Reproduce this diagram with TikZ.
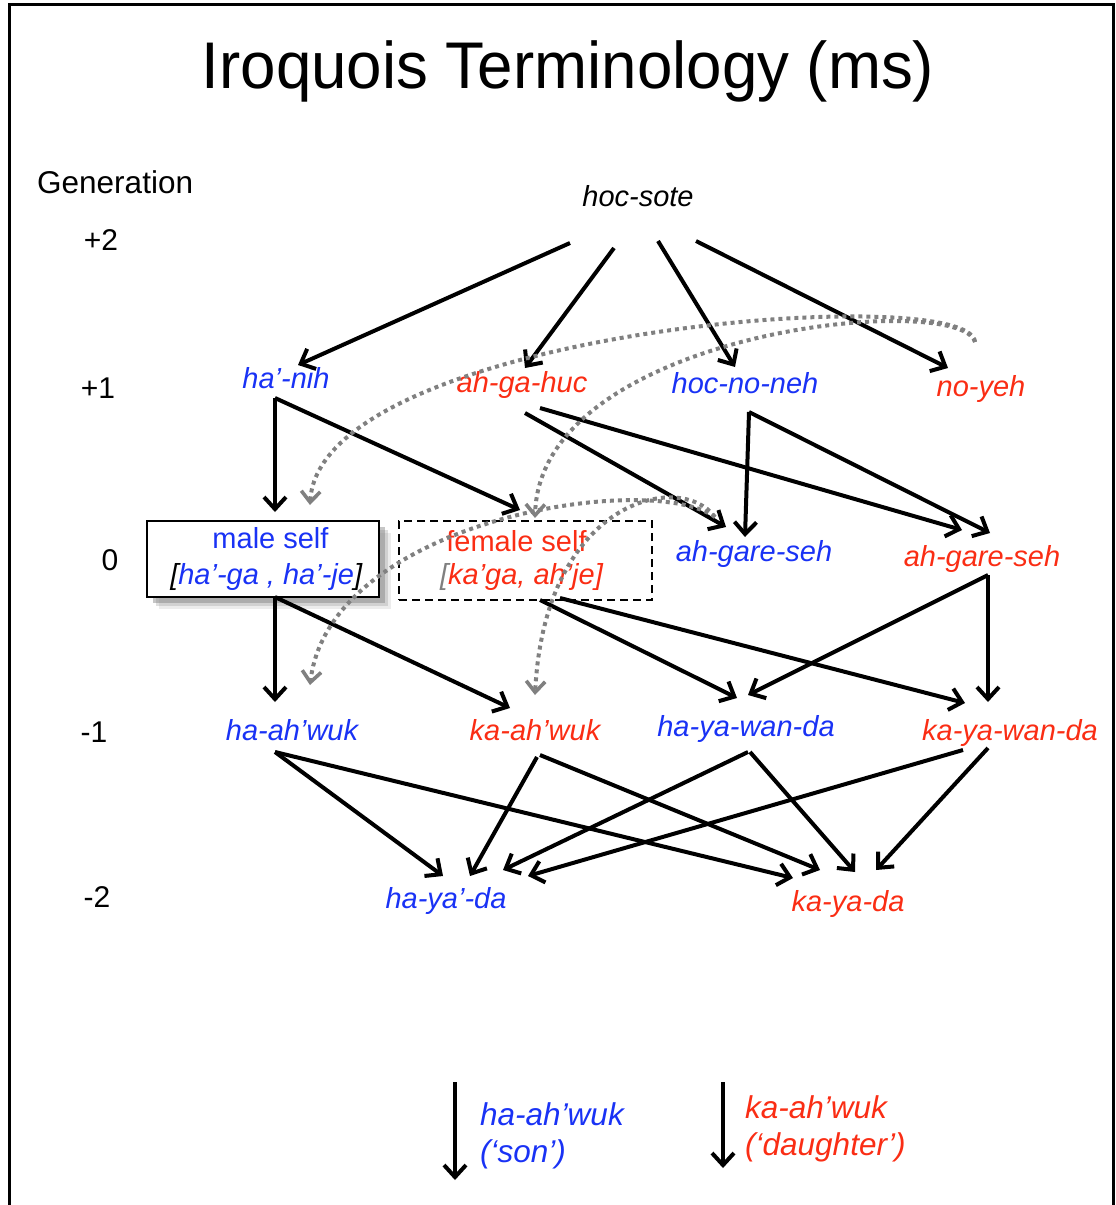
\documentclass[tikz,border=0pt]{standalone}
\usepackage{fontspec}
\setmainfont{Liberation Sans}
\newfontfamily\titlefont[FakeStretch=0.965]{Liberation Sans}
\usetikzlibrary{arrows.meta,calc,shadows}
\definecolor{kblue}{RGB}{25,50,245}
\definecolor{kred}{RGB}{250,45,20}
\definecolor{dgray}{RGB}{128,128,128}
\begin{document}
\begin{tikzpicture}[x=1pt,y=-1pt,
  lbl/.style={font=\fontsize{29}{34}\selectfont\itshape, anchor=base, inner sep=0pt},
  leg/.style={font=\fontsize{31.5}{34}\selectfont\itshape, anchor=base west, inner sep=0pt},
  gen/.style={font=\fontsize{30}{34}\selectfont, anchor=base, inner sep=0pt},
  arr/.style={line width=4pt, -{Straight Barb[length=12pt,width=22pt,line width=4pt]}},
  dotarr/.style={dgray, line width=4pt, dash pattern=on 4pt off 4pt, -{Straight Barb[length=11pt,width=19pt,line width=3.6pt]}}]
\useasboundingbox (0,0) rectangle (1116,1205);
\draw[line width=3pt] (9,1205) -- (9,4) -- (1113,4) -- (1113,1205);

% title and generation labels
\node[anchor=base, inner sep=0pt, font=\titlefont\fontsize{66}{70}\selectfont] (title) at (568,88) {Iroquois Terminology (ms)};
\node[gen, anchor=base west, font=\fontsize{31.5}{34}\selectfont] (genlbl) at (37,193) {Generation};
\node[gen] (g2) at (101,250) {+2};
\node[gen] (g1) at (98,398) {+1};
\node[gen] (g0) at (110,570) {0};
\node[gen] (gm1) at (94,742) {-1};
\node[gen] (gm2) at (97,907) {-2};

% kin terms
\node[lbl] (hocsote) at (638,206) {hoc-sote};
\node[lbl, text=kblue] (hanih) at (286,388) {ha’-nih};
\node[lbl, text=kred] (ahgahuc) at (522,392) {ah-ga-huc};
\node[lbl, text=kblue] (hocnoneh) at (745,393) {hoc-no-neh};
\node[lbl, text=kred] (noyeh) at (981,396) {no-yeh};
\node[lbl, text=kblue] (bahg) at (754,561) {ah-gare-seh};
\node[lbl, text=kred] (rahg) at (982,566) {ah-gare-seh};
\node[lbl, text=kblue] (hahwuk) at (292,740) {ha-ah’wuk};
\node[lbl, text=kred] (kahwuk) at (535,740) {ka-ah’wuk};
\node[lbl, text=kblue] (hayawanda) at (746,736) {ha-ya-wan-da};
\node[lbl, text=kred] (kayawanda) at (1010,740) {ka-ya-wan-da};
\node[lbl, text=kblue] (hayada) at (446,908) {ha-ya’-da};
\node[lbl, text=kred] (kayada) at (848,911) {ka-ya-da};

% self boxes
\node[draw, line width=2.5pt, fill=white, minimum width=232pt, minimum height=76pt, inner sep=0pt,
  align=center, font=\fontsize{29}{36}\selectfont,
  drop shadow={shadow xshift=12pt,shadow yshift=-12pt,opacity=0.15},
  drop shadow={shadow xshift=9pt,shadow yshift=-9pt,opacity=0.25},
  drop shadow={shadow xshift=6pt,shadow yshift=-6pt,opacity=0.45}] (maleself) at (263,559)
  {\hspace*{15pt}\textcolor{kblue}{male self}\\\hspace*{7pt}\textit{[\textcolor{kblue}{ha’-ga , ha’-je}]}};
\node[draw, line width=2.2pt, dash pattern=on 8pt off 5pt, minimum width=253pt, minimum height=79pt, inner sep=0pt,
  align=center, font=\fontsize{29}{33}\selectfont] (femself) at (525.5,560.5)
  {\textcolor{kred}{female self}\hspace*{18pt}\\\textit{\textcolor{dgray}{[}\textcolor{kred}{ka’ga, ah’je]}}\hspace*{8pt}};

% +2 -> +1
\draw[arr] ($(hocsote.base)+(-68,37)$) -- ($(hanih.base)+(12,-23)$);
\draw[arr] ($(hocsote.base)+(-24,42)$) -- ($(ahgahuc.base)+(3,-24)$);
\draw[arr] ($(hocsote.base)+(20,35)$) -- ($(hocnoneh.base)+(-10,-26)$);
\draw[arr] ($(hocsote.base)+(58,35)$) -- ($(noyeh.base)+(-33,-28)$);

% +1 -> 0
\draw[arr] ($(hanih.base)+(-11,10)$) -- ($(maleself.center)+(12,-47)$);
\draw[arr] ($(hanih.base)+(-11,10)$) -- ($(femself.center)+(-5.5,-50.5)$);
\draw[arr] ($(ahgahuc.base)+(3,21)$) -- ($(bahg.base)+(-28,-34)$);
\draw[arr] ($(ahgahuc.base)+(18,16)$) -- ($(rahg.base)+(-20,-36)$);
\draw[arr] ($(hocnoneh.base)+(4,19)$) -- ($(bahg.base)+(-9,-24)$);
\draw[arr] ($(hocnoneh.base)+(4,19)$) -- ($(rahg.base)+(8,-33)$);

% 0 -> -1
\draw[arr] ($(maleself.center)+(12,38)$) -- ($(hahwuk.base)+(-17,-38)$);
\draw[arr] ($(maleself.center)+(12,38)$) -- ($(kahwuk.base)+(-25,-32)$);
\draw[arr] ($(femself.center)+(14.5,39.5)$) -- ($(hayawanda.base)+(-9,-38)$);
\draw[arr] ($(femself.center)+(34.5,37.5)$) -- ($(kayawanda.base)+(-45,-37)$);
\draw[arr] ($(rahg.base)+(6,9)$) -- ($(hayawanda.base)+(2,-41)$);
\draw[arr] ($(rahg.base)+(6,9)$) -- ($(kayawanda.base)+(-22,-38)$);

% -1 -> -2
\draw[arr] ($(hahwuk.base)+(-17,12)$) -- ($(hayada.base)+(-3,-32)$);
\draw[arr] ($(hahwuk.base)+(-17,12)$) -- ($(kayada.base)+(-55,-33)$);
\draw[arr] ($(kahwuk.base)+(2,17)$) -- ($(hayada.base)+(24,-32)$);
\draw[arr] ($(kahwuk.base)+(5,15)$) -- ($(kayada.base)+(-28,-41)$);
\draw[arr] ($(hayawanda.base)+(2,16)$) -- ($(hayada.base)+(57,-38)$);
\draw[arr] ($(hayawanda.base)+(4,16)$) -- ($(kayada.base)+(7,-39)$);
\draw[arr] ($(kayawanda.base)+(-47,10)$) -- ($(hayada.base)+(82,-32)$);
\draw[arr] ($(kayawanda.base)+(-22,8)$) -- ($(kayada.base)+(28,-41)$);

% dotted equivalence curves
\draw[dotarr] ($(noyeh.base)+(-6,-54)$) .. controls (970,280) and (320,330) .. ($(maleself.center)+(47,-54)$);
\draw[dotarr] ($(noyeh.base)+(-6,-54)$) .. controls (960,290) and (540,330) .. ($(femself.center)+(9.5,-42.5)$);
\draw[dotarr] ($(bahg.base)+(-39,-44)$) .. controls (650,470) and (330,520) .. ($(hahwuk.base)+(18,-55)$);
\draw[dotarr] ($(bahg.base)+(-39,-44)$) .. controls (680,470) and (545,500) .. ($(kahwuk.base)+(0,-45)$);

% legend
\coordinate (l1s) at (455,1082);
\coordinate (l1e) at (455,1180);
\coordinate (l2s) at (723,1082);
\coordinate (l2e) at (723,1168);
\draw[arr] (l1s) -- (l1e);
\draw[arr] (l2s) -- (l2e);
\node[leg, text=kblue] (leg1a) at (480,1125) {ha-ah’wuk};
\node[leg, text=kblue] (leg1b) at (480,1162) {(‘son’)};
\node[leg, text=kred] (leg2a) at (745,1118) {ka-ah’wuk};
\node[leg, text=kred] (leg2b) at (745,1155) {(‘daughter’)};
\end{tikzpicture}
\end{document}
